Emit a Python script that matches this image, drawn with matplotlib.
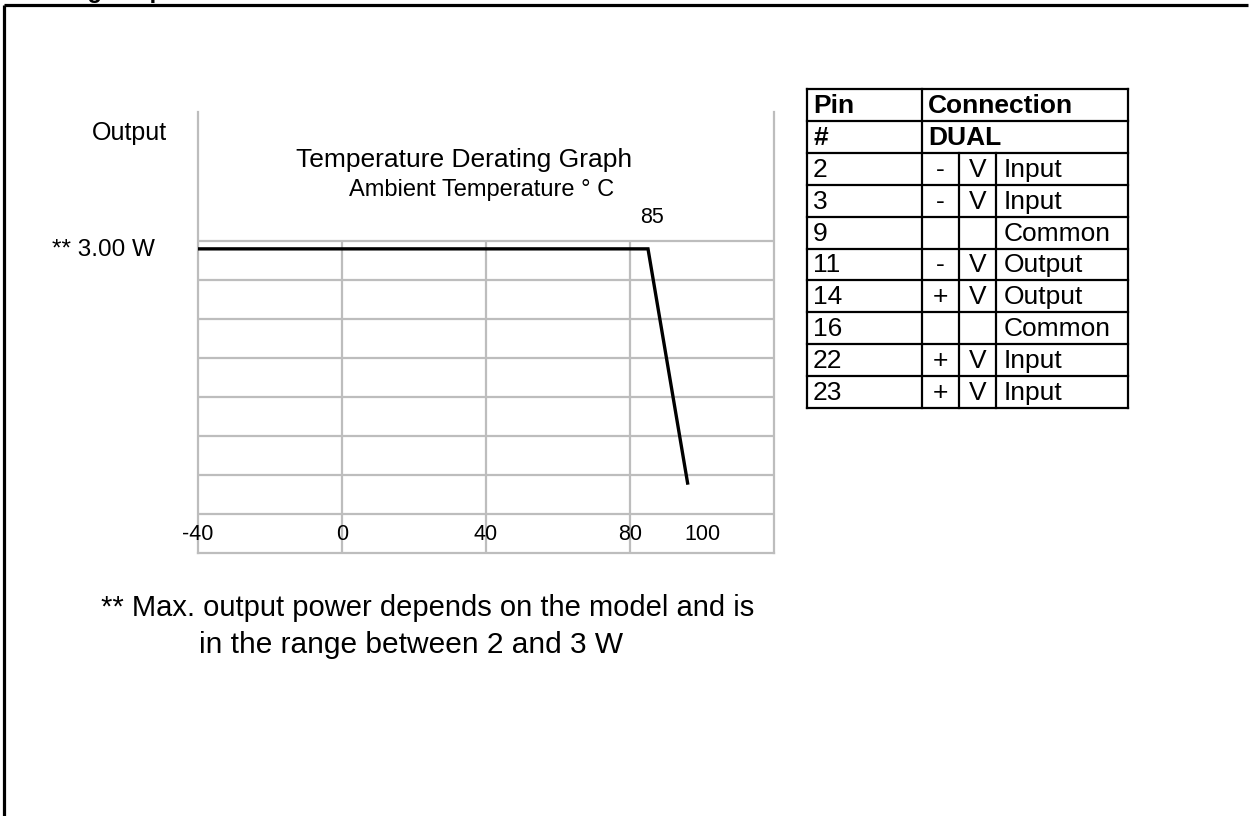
import matplotlib
matplotlib.use("Agg")
import matplotlib.pyplot as plt

# ---------------- data ----------------
temps = [-40, 85, 96]            # ambient temperature, deg C
power = [3.0, 3.0, 0.69]         # output power, W
x_ticks = [-40, 0, 40, 80, 100]
x_tick_labels = ["-40", "0", "40", "80", "100"]
x_grid = [-40, 0, 40, 80, 120]
y_grid = [0.0, 0.385, 0.77, 1.155, 1.54, 1.925, 2.31, 2.695, 3.08]
knee_temp = 85
knee_label = "85"
chart_title = "Temperature Derating Graph"
chart_subtitle = "Ambient Temperature ° C"
y_label = "Output"
power_label = "** 3.00 W"
footnote_lines = ["** Max. output power depends on the model and is",
                  "in the range between 2 and 3 W"]
header_text = "Derating Graph"

pin_header = ["Pin", "Connection"]
pin_subheader = ["#", "DUAL"]
pins = ["2", "3", "9", "11", "14", "16", "22", "23"]
signs = ["-", "-", "", "-", "+", "", "+", "+"]
volts = ["V", "V", "", "V", "V", "", "V", "V"]
functions = ["Input", "Input", "Common", "Output", "Output", "Common", "Input", "Input"]

# ---------------- layout ----------------
W, H = 1250, 816
FONT = "Liberation Sans"
plt.rcParams["font.family"] = [FONT, "DejaVu Sans"]

fig = plt.figure(figsize=(W / 100, H / 100), dpi=100)
fig.patch.set_facecolor("white")

# overlay in pixel coordinates for frame, texts and table
ov = fig.add_axes([0, 0, 1, 1])
ov.set_xlim(0, W)
ov.set_ylim(H, 0)
ov.axis("off")

# outer frame (top and left edges visible)
ov.plot([4, 1248], [5, 5], color="black", lw=2.3, solid_capstyle="butt")
ov.plot([4, 4], [5, H], color="black", lw=2.3, solid_capstyle="butt")

# clipped heading at the very top (only descenders visible)
fig.text(6 / W, 1 + 2 / H, header_text, fontsize=17, fontweight="bold",
         ha="left", va="baseline", family=FONT)

# ---------------- chart ----------------
L, R, T, B = 198, 774, 112, 553
ax = fig.add_axes([L / W, 1 - B / H, (R - L) / W, (B - T) / H])
ax.set_xlim(x_grid[0], x_grid[-1])
ax.set_ylim(0, 4.35)
ax.set_facecolor("none")
grid_c = "#bdbdbd"
ax.spines["top"].set_visible(False)
for s in ["left", "right", "bottom"]:
    ax.spines[s].set_color(grid_c)
    ax.spines[s].set_linewidth(1.6)
ax.set_xticks([])
ax.set_yticks([])
ax.hlines(y_grid[1:], x_grid[0], x_grid[-1], color=grid_c, lw=1.6, zorder=1)
ax.vlines(x_grid[1:-1], y_grid[0], y_grid[-1], color=grid_c, lw=1.6, zorder=1)

ax.plot(temps, power, color="black", lw=2.4, zorder=3, solid_joinstyle="miter")

for xv, lab in zip(x_ticks, x_tick_labels):
    ax.text(xv, 0.18, lab, ha="center", va="center", fontsize=15.5, family=FONT)
ax.text(knee_temp + 1, 3.31, knee_label, ha="center", va="center", fontsize=15.5, family=FONT)

# chart texts
ov.text(167, 133, y_label, ha="right", va="center", fontsize=18, family=FONT)
ov.text(155, 250, power_label, ha="right", va="center", fontsize=17.5, family=FONT)
ov.text(464, 160, chart_title, ha="center", va="center", fontsize=19, family=FONT)
ov.text(482, 190, chart_subtitle, ha="center", va="center", fontsize=17, family=FONT)
ov.text(428, 608, footnote_lines[0], ha="center", va="center", fontsize=21, family=FONT)
ov.text(411, 645, footnote_lines[1], ha="center", va="center", fontsize=21.5, family=FONT)

# ---------------- pin table ----------------
cx = [807, 922, 959, 996, 1128]
top, rh = 89, 31.9
nrows = 2 + len(pins)
bot = top + nrows * rh
lw_t = 1.6
for i in range(nrows + 1):
    y = top + i * rh
    ov.plot([cx[0], cx[-1]], [y, y], color="black", lw=lw_t, solid_capstyle="projecting")
ov.plot([cx[0], cx[0]], [top, bot], color="black", lw=lw_t)
ov.plot([cx[-1], cx[-1]], [top, bot], color="black", lw=lw_t)
ov.plot([cx[1], cx[1]], [top, bot], color="black", lw=lw_t)
ov.plot([cx[2], cx[2]], [top + 2 * rh, bot], color="black", lw=lw_t)
ov.plot([cx[3], cx[3]], [top + 2 * rh, bot], color="black", lw=lw_t)

fs_t = 19
pad = 6


def row_y(i):
    return top + i * rh + rh * 0.5 + 1


ov.text(cx[0] + pad, row_y(0), pin_header[0], fontsize=fs_t, fontweight="bold",
        va="center", ha="left", family=FONT)
ov.text(cx[1] + pad, row_y(0), pin_header[1], fontsize=fs_t, fontweight="bold",
        va="center", ha="left", family=FONT)
ov.text(cx[0] + pad, row_y(1), pin_subheader[0], fontsize=fs_t, fontweight="bold",
        va="center", ha="left", family=FONT)
ov.text(cx[1] + pad, row_y(1), pin_subheader[1], fontsize=fs_t, fontweight="bold",
        va="center", ha="left", family=FONT)
for k, (p, s, v, f) in enumerate(zip(pins, signs, volts, functions)):
    yy = row_y(k + 2)
    ov.text(cx[0] + pad, yy, p, fontsize=fs_t, va="center", ha="left", family=FONT)
    ov.text((cx[1] + cx[2]) / 2, yy, s, fontsize=fs_t, va="center", ha="center", family=FONT)
    ov.text((cx[2] + cx[3]) / 2, yy, v, fontsize=fs_t, va="center", ha="center", family=FONT)
    ov.text(cx[3] + 8, yy, f, fontsize=fs_t, va="center", ha="left", family=FONT)

fig.savefig("out.png", dpi=100, facecolor="white")
